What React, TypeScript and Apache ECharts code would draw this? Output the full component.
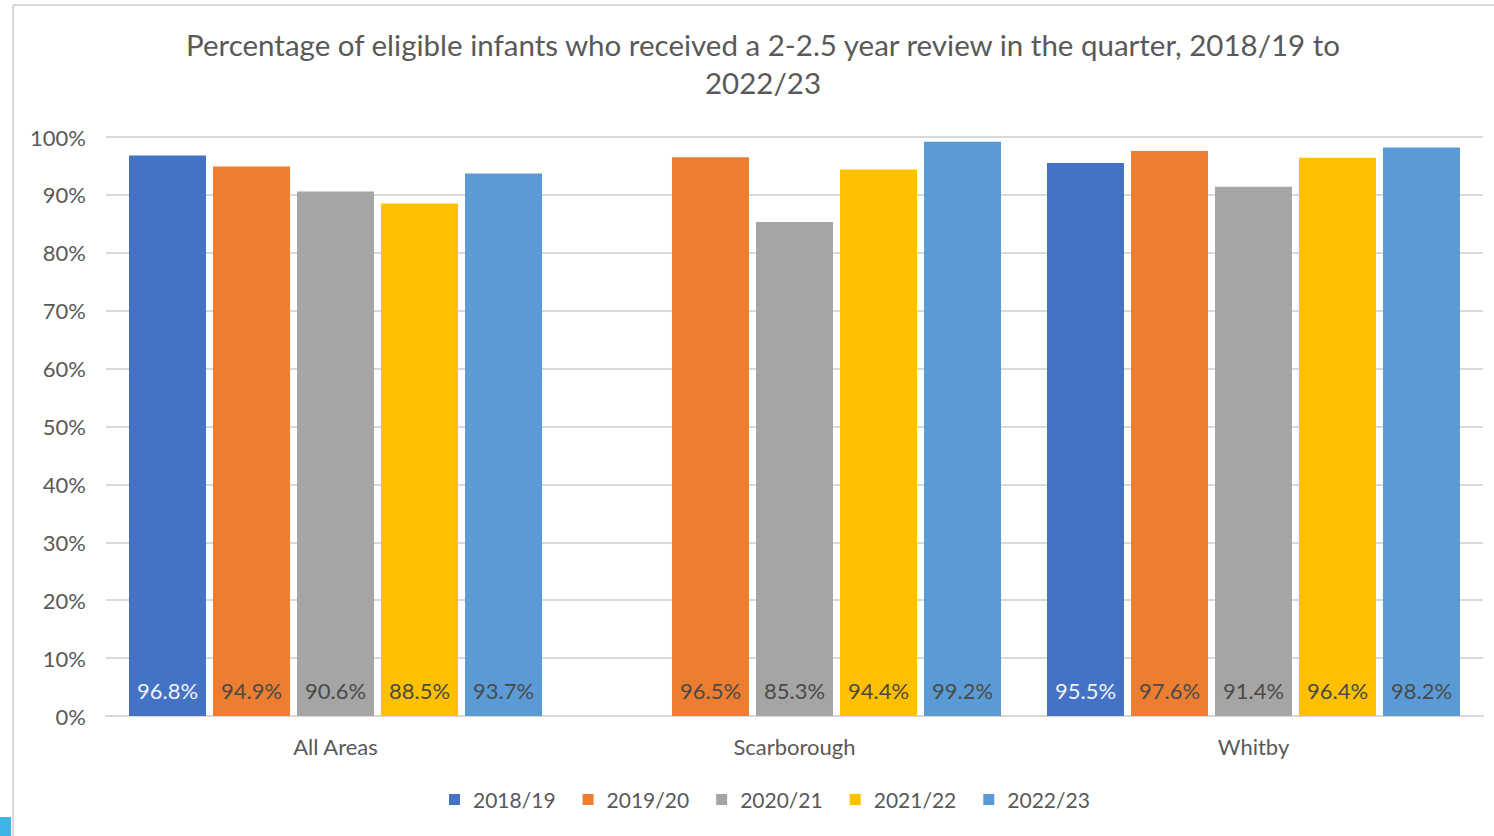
import React, { useEffect, useRef } from "react";
import * as echarts from "echarts";

const categories = ["All Areas", "Scarborough", "Whitby"];
const seriesNames = ["2018/19", "2019/20", "2020/21", "2021/22", "2022/23"];
const s2018 = [96.8, null, 95.5];
const s2019 = [94.9, 96.5, 97.6];
const s2020 = [90.6, 85.3, 91.4];
const s2021 = [88.5, 94.4, 96.4];
const s2022 = [93.7, 99.2, 98.2];
const seriesValues = [s2018, s2019, s2020, s2021, s2022];
const colors = ["#4472c4", "#ed7d31", "#a5a5a5", "#ffc000", "#5b9bd5"];
const labelColors = ["#eef2f8", "#4a4a4a", "#4a4a4a", "#4a4a4a", "#4a4a4a"];
const titleText =
  "Percentage of eligible infants who received a 2-2.5 year review in the quarter, 2018/19 to\n2022/23";

export default function App() {
  const ref = useRef<HTMLDivElement>(null);
  useEffect(() => {
    document.body.style.margin = "0";
    document.body.style.overflow = "hidden";
    const chart = echarts.init(ref.current!, undefined, { renderer: "svg" });
    const font = "Lato, 'Liberation Sans', sans-serif";
    chart.setOption({
      animation: false,
      backgroundColor: "#ffffff",
      textStyle: { fontFamily: font },
      title: {
        text: titleText,
        left: 763,
        top: 25,
        textAlign: "center",
        padding: 0,
        textStyle: {
          fontFamily: font,
          fontSize: 29.5,
          fontWeight: "normal",
          color: "#595959",
          lineHeight: 38,
        },
      },
      grid: { left: 106, right: 11, top: 137, bottom: 120, containLabel: false },
      legend: {
        data: seriesNames,
        bottom: 26,
        left: 449,
        padding: 0,
        icon: "rect",
        itemWidth: 11,
        itemHeight: 11,
        itemGap: 27,
        textStyle: {
          fontFamily: font,
          fontSize: 21,
          color: "#595959",
          padding: [0, 0, 0, 8],
        },
      },
      xAxis: {
        type: "category",
        data: categories,
        axisTick: { show: false },
        axisLine: { lineStyle: { color: "#d9d9d9", width: 2 } },
        axisLabel: { fontFamily: font, fontSize: 22, color: "#595959", margin: 19 },
      },
      yAxis: {
        type: "value",
        min: 0,
        max: 100,
        interval: 10,
        axisLabel: {
          formatter: "{value}%",
          fontFamily: font,
          fontSize: 22,
          color: "#595959",
          margin: 20,
          padding: [0, 0, 6, 0],
        },
        axisLine: { show: false },
        axisTick: { show: false },
        splitLine: { lineStyle: { color: "#d9d9d9", width: 2 } },
      },
      series: seriesNames.map((name, i) => ({
        name,
        type: "bar",
        data: seriesValues[i],
        barWidth: 77,
        barGap: "9.1%",
        itemStyle: { color: colors[i] },
        label: {
          show: true,
          position: "insideBottom",
          distance: 15,
          formatter: (p: any) => `${p.value.toFixed(1)}%`,
          fontFamily: font,
          fontSize: 22,
          color: labelColors[i],
        },
      })),
      graphic: [
        {
          type: "line",
          shape: { x1: 13, y1: 5, x2: 1494, y2: 5 },
          style: { stroke: "#d9d9d9", lineWidth: 2 },
          silent: true,
        },
        {
          type: "line",
          shape: { x1: 13, y1: 5, x2: 13, y2: 836 },
          style: { stroke: "#d9d9d9", lineWidth: 2 },
          silent: true,
        },
        {
          type: "rect",
          shape: { x: 0, y: 817, width: 11, height: 19 },
          style: { fill: "#3cb4e6" },
          silent: true,
        },
      ],
    });
    return () => chart.dispose();
  }, []);
  return (
    <div
      ref={ref}
      style={{ position: "fixed", left: 0, top: 0, width: 1494, height: 836 }}
    />
  );
}
